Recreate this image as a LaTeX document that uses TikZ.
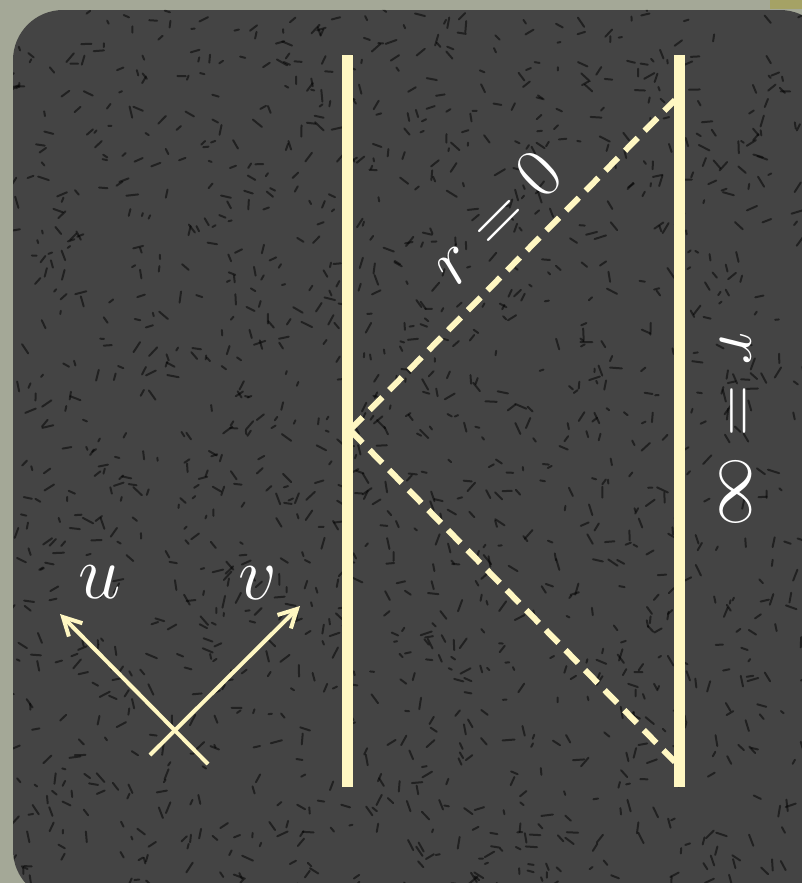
\RequirePackage{fix-cm}
\documentclass[tikz,border=0pt]{standalone}
\usetikzlibrary{arrows.meta}
\definecolor{outerbg}{HTML}{A4A897}
\definecolor{slate}{HTML}{444444}
\definecolor{cream}{HTML}{FFF7C2}
\tikzset{
  wall/.style={draw=cream, line width=11pt},
  ray/.style={draw=cream, line width=6pt, dash pattern=on 18pt off 10pt},
  axis/.style={draw=cream, line width=4pt, -{Straight Barb[length=18pt,width=19pt,line width=4pt]}},
  lab/.style={text=white, font=\fontsize{76}{76}\selectfont, inner sep=0pt},
  eqlab/.style={text=white, font=\fontsize{71}{71}\selectfont, inner sep=0pt},
}
\begin{document}
\begin{tikzpicture}[x=1pt,y=-1pt]
\useasboundingbox (0,0) rectangle (802,883);
\fill[outerbg] (0,0) rectangle (802,883);
\fill[olive!35!outerbg] (770,0) rectangle (802,9);
\begin{scope}
\clip[rounded corners=50pt] (13,10) rectangle (830,900);
\fill[slate] (13,10) rectangle (830,900);
\pgfmathsetseed{7}
\foreach \i in {1,...,1500} {
  \pgfmathsetmacro{\px}{13+rnd*800}
  \pgfmathsetmacro{\py}{10+rnd*880}
  \pgfmathsetmacro{\pa}{rnd*360}
  \pgfmathsetmacro{\pl}{3+rnd*9}
  \draw[black, opacity=0.5, line width=2pt, line cap=round] (\px,\py) -- ++(\pa:\pl);
}
\end{scope}
% named points
\coordinate (LT) at (347,55);
\coordinate (LB) at (347,787);
\coordinate (RT) at (679,55);
\coordinate (RB) at (679,787);
\coordinate (O) at (350,430);
\coordinate (UE) at (675,100);
\coordinate (LE) at (675,762);
\coordinate (A1) at (208,764);
\coordinate (A2) at (60,614);
\coordinate (B1) at (150,755);
\coordinate (B2) at (300,606);
% walls
\draw[wall] (LT) -- (LB);
\draw[wall] (RT) -- (RB);
% light rays
\draw[ray] (O) -- (UE);
\draw[ray] (O) -- (LE);
% axes
\draw[axis] (A1) -- (A2);
\draw[axis] (B1) -- (B2);
% labels
\node[lab] (ulab) at (100,582) {$u$};
\node[lab] (vlab) at (258,583) {$v$};
\node[eqlab, rotate=45] (r0) at (495,217) {$r=0$};
\node[eqlab, rotate=-90] (rinf) at (736,430) {$r=\infty$};
\end{tikzpicture}
\end{document}
